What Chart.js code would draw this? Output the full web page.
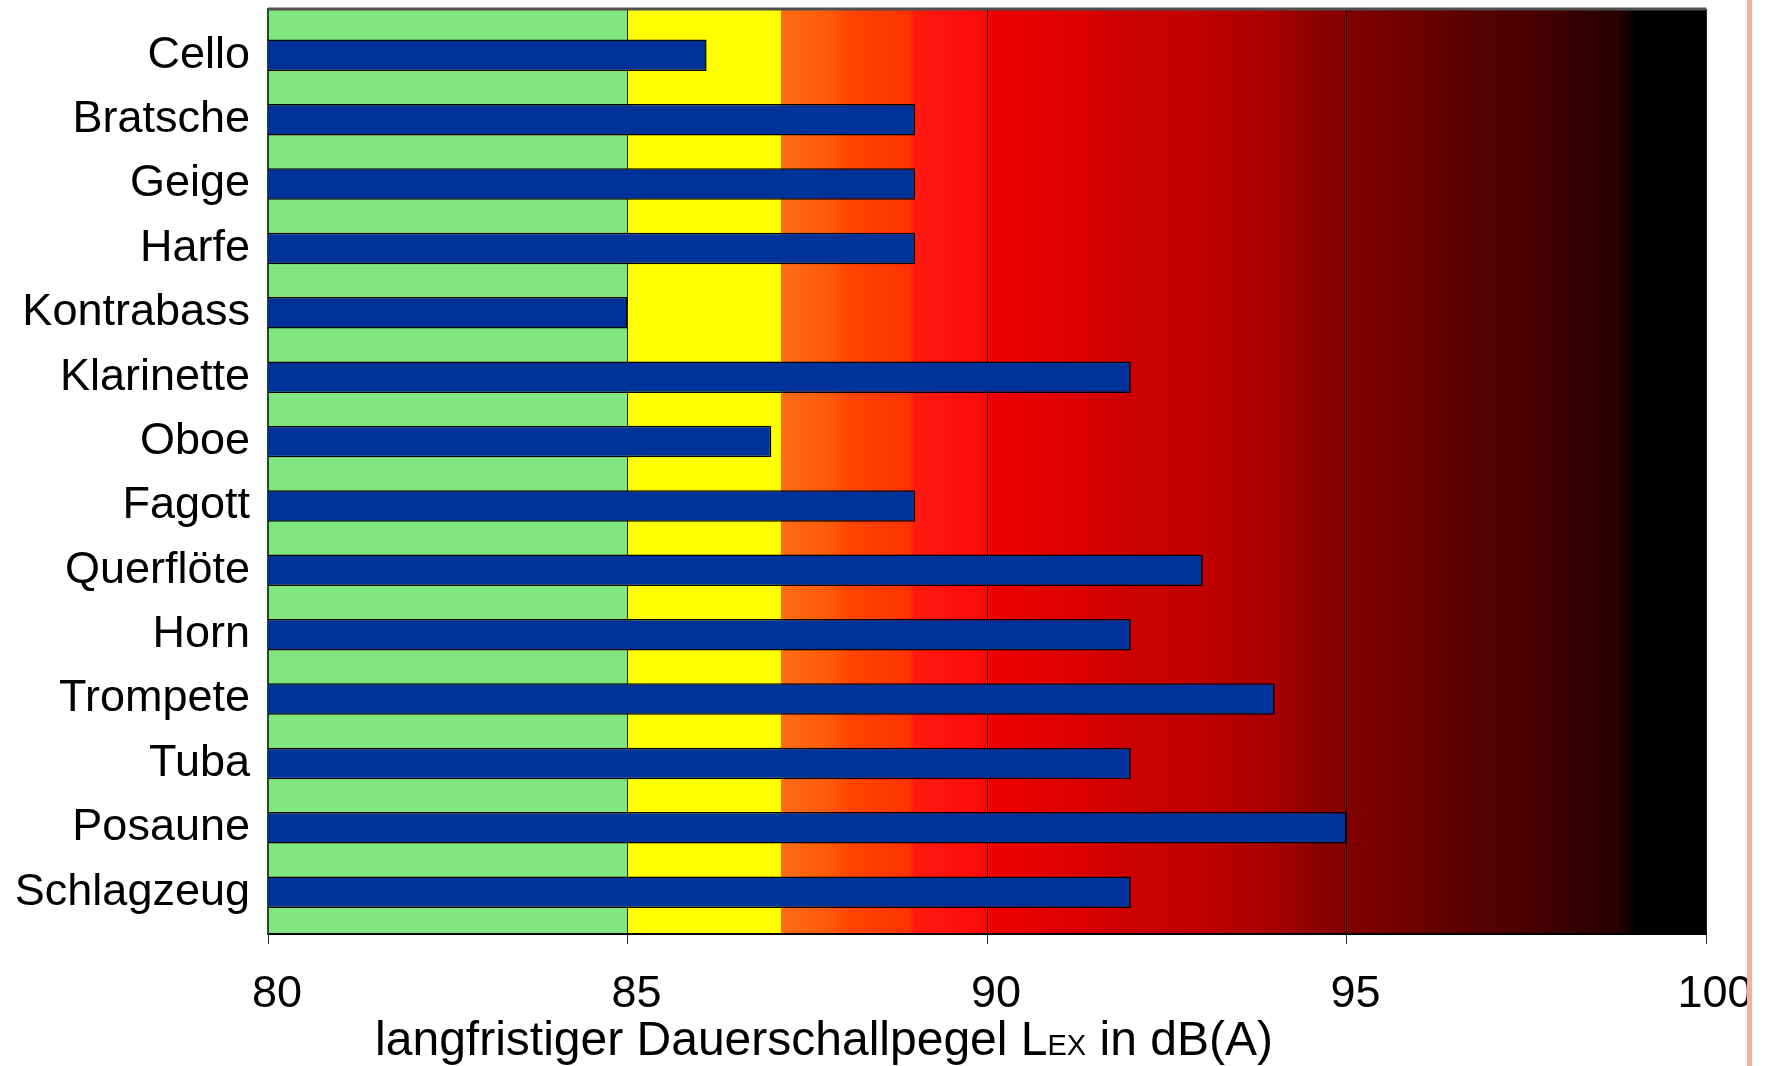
<!DOCTYPE html>
<html>
<head>
<meta charset="utf-8">
<script src="https://cdn.jsdelivr.net/npm/chart.js@4.4.0/dist/chart.umd.min.js"></script>
<style>
  html, body { margin: 0; padding: 0; background: #fff; }
  #wrap { width: 1773px; height: 1066px; }
</style>
</head>
<body>
<div id="wrap"><canvas id="lexChart"></canvas></div>
<script>
// instruments, top to bottom
const instruments = ['Cello', 'Bratsche', 'Geige', 'Harfe', 'Kontrabass', 'Klarinette', 'Oboe',
  'Fagott', 'Querflöte', 'Horn', 'Trompete', 'Tuba', 'Posaune', 'Schlagzeug'];
// langfristiger Dauerschallpegel in dB(A)
const levels = [86.1, 89, 89, 89, 85, 92, 87, 89, 93, 92, 94, 92, 95, 92];
const xMin = 80, xMax = 100, xStep = 5;

// background zones: [dB, colour], repeated dB = hard edge
const zoneStops = [
  [80, '#80e680'], [85, '#80e680'], [85, '#ffff00'], [87.13, '#ffff00'],
  [87.13, '#ff6c18'], [87.8, '#ff5a08'], [88.1, '#ff4400'], [88.9, '#ff3300'],
  [89.0, '#ff1a10'], [89.9, '#ff0a0a'], [90.1, '#ee0000'], [91, '#e00000'],
  [92, '#cc0000'], [93, '#c00000'], [94, '#a80000'], [94.6, '#8c0000'],
  [95.3, '#7c0000'], [96, '#6c0000'], [96.8, '#560000'], [97.6, '#480000'],
  [98.2, '#340000'], [98.8, '#260000'], [99.05, '#000000'], [100, '#000000']
];

const FONT = '"Liberation Sans", Arial, sans-serif';

// draws the coloured zones, the frame, the axis title and the pink edge line
const decorPlugin = {
  id: 'decor',
  beforeDraw(chart) {
    const { ctx, chartArea: a, scales } = chart;
    const x = scales.x;
    const x0 = x.getPixelForValue(xMin), x1 = x.getPixelForValue(xMax);
    const g = ctx.createLinearGradient(x0, 0, x1, 0);
    zoneStops.forEach(([v, c]) => g.addColorStop((v - xMin) / (xMax - xMin), c));
    ctx.save();
    ctx.fillStyle = g;
    ctx.fillRect(a.left, a.top, a.right - a.left, a.bottom - a.top);
    ctx.restore();
  },
  afterDraw(chart) {
    const { ctx, chartArea: a } = chart;
    ctx.save();
    // frame top
    ctx.strokeStyle = '#505050';
    ctx.lineWidth = 3;
    ctx.beginPath();
    ctx.moveTo(a.left, a.top);
    ctx.lineTo(a.right, a.top);
    ctx.stroke();

    // axis title with smaller "EX"
    const parts = [
      ['langfristiger Dauerschallpegel L', 48],
      ['EX', 29],
      [' in dB(A)', 48]
    ];
    let total = 0;
    parts.forEach(([t, s]) => { ctx.font = s + 'px ' + FONT; total += ctx.measureText(t).width; });
    let tx = 824 - total / 2;
    ctx.fillStyle = '#000';
    ctx.textBaseline = 'alphabetic';
    parts.forEach(([t, s]) => {
      ctx.font = s + 'px ' + FONT;
      ctx.fillText(t, tx, 1055);
      tx += ctx.measureText(t).width;
    });

    // pink edge line on the right
    ctx.fillStyle = '#f5aea6';
    ctx.fillRect(1747, 0, 5, chart.height);
    ctx.restore();
  }
};

const ctx = document.getElementById('lexChart').getContext('2d');
const lexChart = new Chart(ctx, {
  type: 'bar',
  data: {
    datasets: [{
      label: 'LEX',
      data: levels.map((v, i) => ({ x: v, y: i })),
      backgroundColor: '#003399',
      borderColor: '#000000',
      borderWidth: 1.5,
      borderSkipped: false,
      categoryPercentage: 1,
      barPercentage: 0.49
    }]
  },
  plugins: [decorPlugin],
  options: {
    indexAxis: 'y',
    responsive: true,
    maintainAspectRatio: false,
    animation: false,
    layout: { padding: { left: 0, right: 67, top: 9, bottom: 0 } },
    plugins: {
      legend: { display: false },
      tooltip: { enabled: false }
    },
    scales: {
      x: {
        type: 'linear',
        min: xMin,
        max: xMax,
        ticks: {
          stepSize: xStep,
          color: '#000',
          font: { family: FONT, size: 45 },
          padding: 24,
          labelOffset: 9,
          maxRotation: 0
        },
        grid: {
          color: 'rgba(0,0,0,0.85)',
          lineWidth: 1,
          tickLength: 10,
          drawOnChartArea: true
        },
        border: { display: true, color: '#000', width: 2 },
        afterFit(scale) {
          scale.height = 132;
          scale.paddingLeft = 0;
          scale.paddingRight = 0;
        }
      },
      y: {
        type: 'linear',
        reverse: true,
        offset: false,
        min: -0.72,
        max: 13.65,
        afterBuildTicks(scale) {
          scale.ticks = instruments.map((_, i) => ({ value: i }));
        },
        ticks: {
          color: '#000',
          font: { family: FONT, size: 45 },
          padding: 18,
          callback: (v) => instruments[v]
        },
        grid: { display: false, drawTicks: false },
        border: { display: true, color: '#2b4a2b', width: 2 },
        afterFit(scale) {
          scale.width = 268;
          scale.paddingTop = 0;
          scale.paddingBottom = 0;
        }
      }
    }
  }
});
</script>
</body>
</html>
